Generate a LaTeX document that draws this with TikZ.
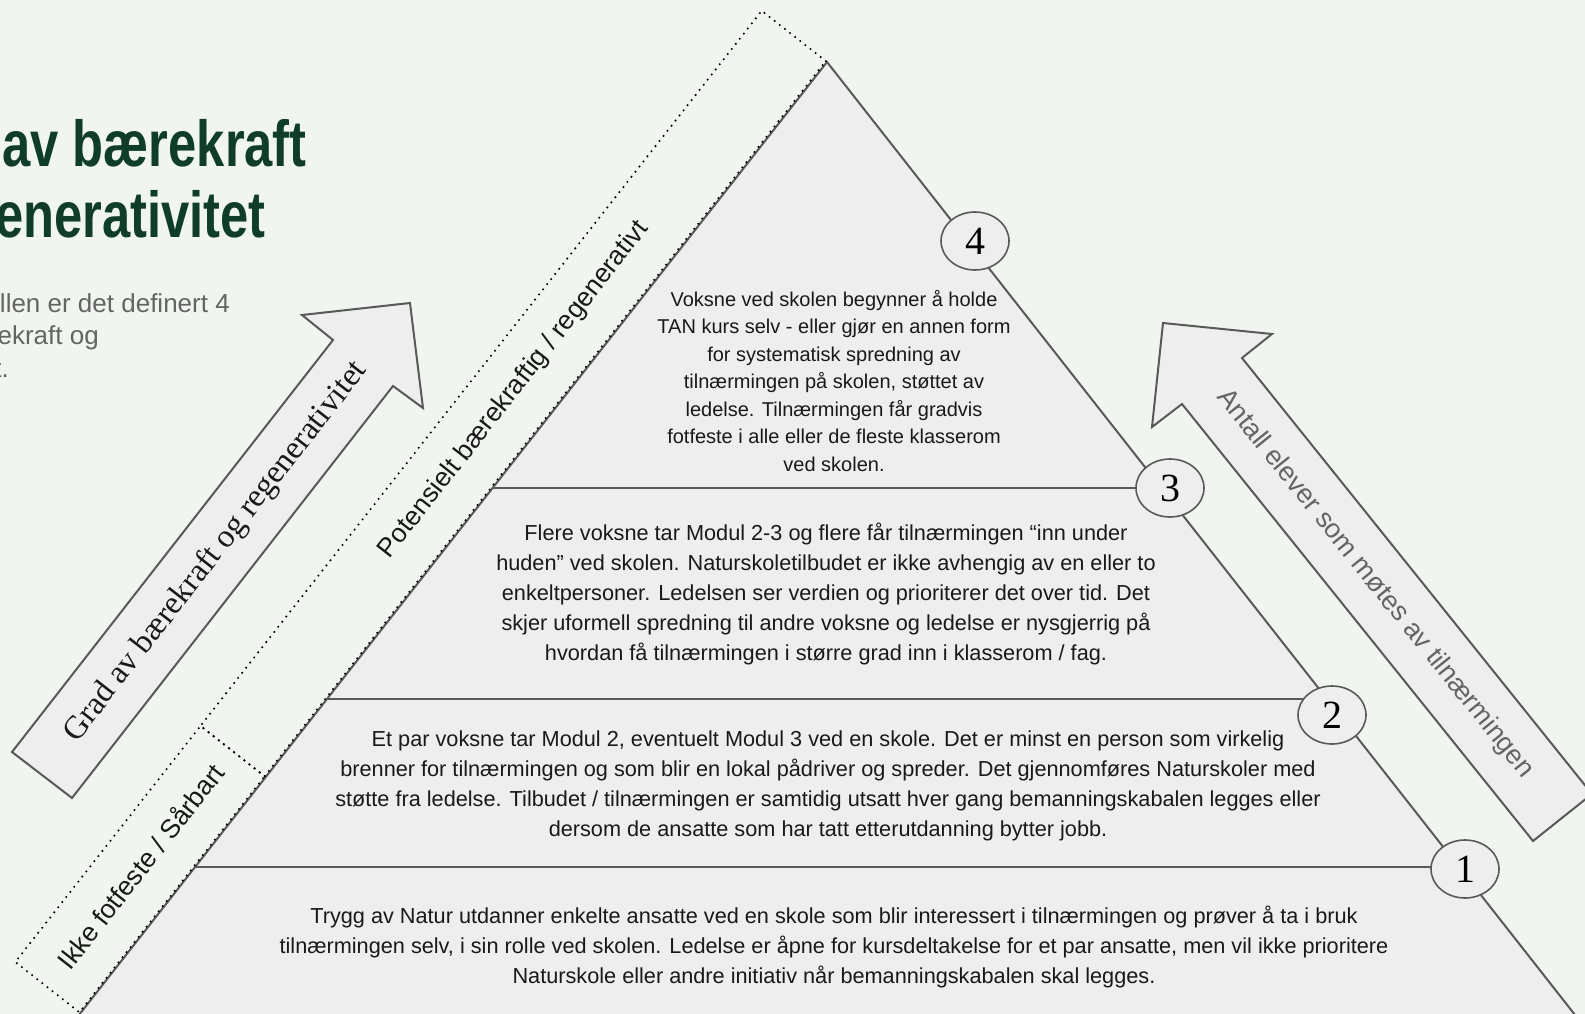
\documentclass[tikz,border=0pt]{standalone}
\usepackage{fontspec}
\setmainfont{Liberation Sans}
\newfontfamily\numfont{Liberation Serif}
\newfontfamily\seriffont{Liberation Serif}
\newfontfamily\titlefont{Liberation Sans}[FakeStretch=0.78]
\usetikzlibrary{shapes.geometric}

\definecolor{bg}{RGB}{240,246,239}
\definecolor{boxfill}{RGB}{238,238,238}
\definecolor{edgegray}{RGB}{89,89,89}
\definecolor{titlegreen}{RGB}{15,61,41}
\definecolor{textgray}{RGB}{100,100,100}
\definecolor{textdark}{RGB}{25,25,25}

\tikzset{
  edge/.style={draw=edgegray, line width=2pt},
  bigarrow/.style={draw=edgegray, line width=2pt, fill=boxfill, line join=miter},
  band/.style={draw=black, line width=2.3pt, line cap=round, dash pattern=on 0pt off 6.5pt},
  bandlabel/.style={rotate=51.9, text=textdark, font=\fontsize{26.5}{30}\selectfont},
  level/.style={align=center, inner sep=0pt, text=textdark, font=\fontsize{21.7}{30}\selectfont},
  num/.style={ellipse, draw=edgegray, line width=1.6pt, fill=boxfill, minimum width=68pt,
    minimum height=58pt, inner sep=0pt, font=\numfont\fontsize{40}{40}\selectfont},
  intro/.style={anchor=base east, inner sep=0pt, text=textgray, font=\fontsize{26}{32}\selectfont},
  title/.style={anchor=base east, inner sep=0pt, text=titlegreen, font=\titlefont\bfseries\fontsize{65}{70}\selectfont}
}

\begin{document}
\begin{tikzpicture}[x=1pt, y=-1pt]
  \useasboundingbox (0,0) rectangle (1585,1014);
  \clip (0,0) rectangle (1585,1014);
  \fill[bg] (0,0) rectangle (1585,1014);

  \node[title] (title1) at (307,167) {av bærekraft};
  \node[title] (title2) at (266,237) {enerativitet};
  \node[intro] (intro1) at (230,312) {llen er det definert 4};
  \node[intro] (intro2) at (99,344) {ekraft og};
  \node[intro] (intro3) at (9,377) {t.};

  \filldraw[bigarrow] (12,752) -- (333,340) -- (302,315) -- (410,303) -- (423,408) -- (393,386) -- (72,798) -- cycle;
  \node[rotate=52.1, text=textdark, font=\seriffont\fontsize{32.5}{32}\selectfont] (grad) at (216,552) {Grad av bærekraft og regenerativitet};

  \filldraw[bigarrow] (1533,841) -- (1182,404) -- (1152,427) -- (1163,323) -- (1272,334) -- (1242,358) -- (1592,794) -- cycle;
  \node[rotate=-51.2, text=textgray, font=\fontsize{27}{30}\selectfont] (antall) at (1375,584) {Antall elever som møtes av tilnærmingen};

  \coordinate (apex) at (827,62);
  \coordinate (bl) at (75,1020);
  \coordinate (br) at (1579,1020);
  \filldraw[edge, fill=boxfill] (bl) -- (apex) -- (br) -- cycle;

  \coordinate (c4) at (975,241);
  \coordinate (c3) at (1170,488);
  \coordinate (c2) at (1332,715);
  \coordinate (c1) at (1465,869);
  \coordinate (e3) at (493,488);
  \coordinate (e2) at (327,699);
  \coordinate (e1) at (195,867);
  \draw[edge] (e3) -- (e3 -| c3);
  \draw[edge] (e2) -- (e2 -| c2);
  \draw[edge] (e1) -- (e1 -| c1);
  \node[num] (n4) at (c4) {4};
  \node[num] (n3) at (c3) {3};
  \node[num] (n2) at (c2) {2};
  \node[num] (n1) at (c1) {1};

  \draw[band] (825.8,61.1) -- (761.7,10.8) -- (200.5,725.9) -- (264.6,776.3) -- cycle;
  \draw[band] (264.6,776.3) -- (200.5,725.9) -- (15.3,962) -- (79.4,1012.3) -- cycle;
  \node[bandlabel] (potensielt) at (514,390) {Potensielt bærekraftig / regenerativt};
  \node[bandlabel] (ikke) at (140,866) {Ikke fotfeste / Sårbart};

  \node[level, font=\fontsize{20}{27.5}\selectfont] (lv4) at (834,381) {Voksne ved skolen begynner å holde\\TAN kurs selv - eller gjør en annen form\\for systematisk spredning av\\tilnærmingen på skolen, støttet av\\ledelse. Tilnærmingen får gradvis\\fotfeste i alle eller de fleste klasserom\\ved skolen.};
  \node[level] (lv3) at (826,594) {Flere voksne tar Modul 2-3 og flere får tilnærmingen “inn under\\huden” ved skolen. Naturskoletilbudet er ikke avhengig av en eller to\\enkeltpersoner. Ledelsen ser verdien og prioriterer det over tid. Det\\skjer uformell spredning til andre voksne og ledelse er nysgjerrig på\\hvordan få tilnærmingen i større grad inn i klasserom / fag.};
  \node[level] (lv2) at (828,786) {Et par voksne tar Modul 2, eventuelt Modul 3 ved en skole. Det er minst en person som virkelig\\brenner for tilnærmingen og som blir en lokal pådriver og spreder. Det gjennomføres Naturskoler med\\støtte fra ledelse. Tilbudet / tilnærmingen er samtidig utsatt hver gang bemanningskabalen legges eller\\dersom de ansatte som har tatt etterutdanning bytter jobb.};
  \node[level] (lv1) at (834,947) {Trygg av Natur utdanner enkelte ansatte ved en skole som blir interessert i tilnærmingen og prøver å ta i bruk\\tilnærmingen selv, i sin rolle ved skolen. Ledelse er åpne for kursdeltakelse for et par ansatte, men vil ikke prioritere\\Naturskole eller andre initiativ når bemanningskabalen skal legges.};
\end{tikzpicture}
\end{document}
